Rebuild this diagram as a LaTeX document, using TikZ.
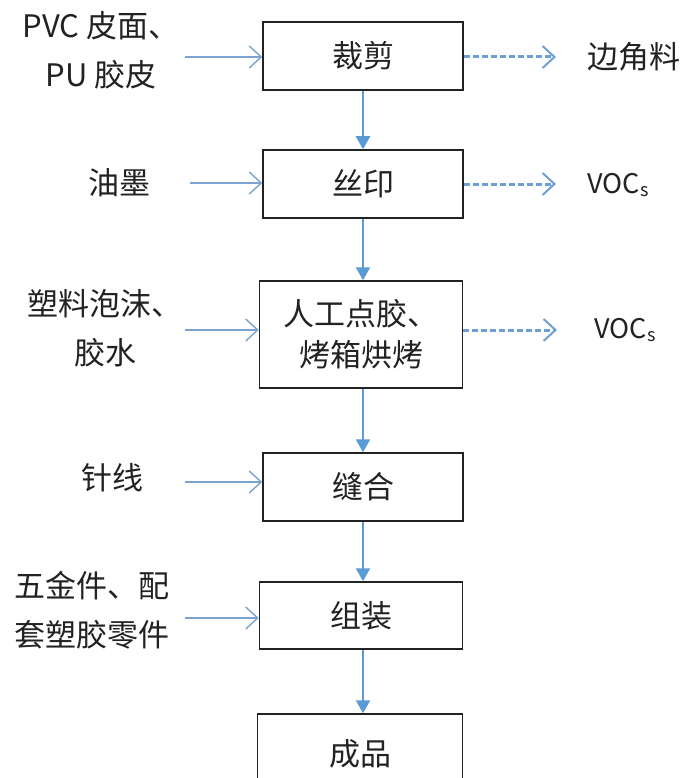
\documentclass[tikz,border=0pt]{standalone}
\usepackage{fontspec}
\setmainfont{Noto Sans CJK SC}
\usetikzlibrary{arrows.meta}
\definecolor{flow}{HTML}{5B9BD5}
\definecolor{inarr}{HTML}{7AA3CF}
\definecolor{outarr}{HTML}{6E9ED3}
\definecolor{ink}{HTML}{222222}
\begin{document}
\begin{tikzpicture}[x=1pt,y=-1pt,
  box/.style={draw=ink,line width=1.5pt,minimum width=200pt,minimum height=68pt,inner sep=0pt,
    font=\fontsize{31}{41}\selectfont,align=center,text=ink},
  lbl/.style={font=\fontsize{31}{49}\selectfont,align=center,inner sep=0pt,text=ink},
  flowarr/.style={draw=flow,line width=2.4pt,-{Triangle[length=13pt,width=14pt]}},
  inarrow/.style={draw=inarr,line width=1.4pt,-{Straight Barb[length=12pt,width=22pt,line width=1.4pt]}},
  outarrow/.style={draw=outarr,line width=3pt,dash pattern=on 6pt off 3pt,
    -{Straight Barb[length=12pt,width=22pt,line width=2pt]}}]
\useasboundingbox (0,0) rectangle (686,778);
\clip (0,0) rectangle (686,778);
\newcommand{\vocs}{VOC\raisebox{-3pt}{\fontsize{18}{18}\selectfont s}}

% process boxes
\node[box] (c1) at (363,56) {裁剪};
\node[box] (c2) at (363,184) {丝印};
\node[box,minimum width=203pt,minimum height=107pt] (c3) at (361,334.5) {人工点胶、\\烤箱烘烤};
\node[box] (c4) at (363,487) {缝合};
\node[box,minimum width=203pt,minimum height=67pt] (c5) at (361,615.5) {组装};
\node[box,minimum width=205pt,minimum height=80pt] (c6) at (360,754) {成品};

% flow arrows
\draw[flowarr] (c1) -- (c2);
\draw[flowarr] (c2.south) -- (c3.north -| c2.south);
\draw[flowarr] (c3.south -| c2.south) -- (c4.north);
\draw[flowarr] (c4.south) -- (c5.north -| c4.south);
\draw[flowarr] (c5.south -| c4.south) -- (c6.north -| c4.south);

% inputs
\node[lbl] (i1) at (101,50) {PVC 皮面、\\PU 胶皮};
\node[lbl] (i2) at (119,183) {油墨};
\node[lbl] (i3) at (105,328) {塑料泡沫、\\胶水};
\node[lbl] (i4) at (112,478) {针线};
\node[lbl] (i5) at (92,610) {五金件、配\\套塑胶零件};
\coordinate (s1) at (185,57);
\coordinate (s2) at (190,183);
\coordinate (s3) at (185,330);
\coordinate (s4) at (185,482);
\coordinate (s5) at (185,618);
\draw[inarrow] (s1) -- (s1 -| c1.west);
\draw[inarrow] (s2) -- (s2 -| c2.west);
\draw[inarrow] (s3) -- (s3 -| c3.west);
\draw[inarrow] (s4) -- (s4 -| c4.west);
\draw[inarrow] (s5) -- (s5 -| c5.west);

% outputs
\node[lbl] (o1) at (634,57) {边角料};
\node[lbl,font=\fontsize{27}{30}\selectfont] (o2) at (618,185) {\vocs};
\node[lbl,font=\fontsize{27}{30}\selectfont] (o3) at (625,330) {\vocs};
\coordinate (e1) at (556,57);
\coordinate (e2) at (556,184);
\coordinate (e3) at (557,330);
\draw[outarrow] (e1 -| c1.east) -- (e1);
\draw[outarrow] (e2 -| c2.east) -- (e2);
\draw[outarrow] (e3 -| c3.east) -- (e3);
\end{tikzpicture}
\end{document}
